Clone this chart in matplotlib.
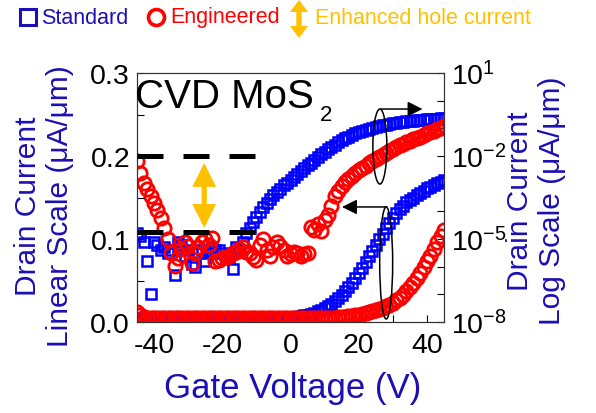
"""Transfer curves of standard vs engineered CVD MoS2 devices (linear + log)."""

import math

import matplotlib

matplotlib.use("Agg")

import matplotlib.pyplot as plt
from matplotlib.lines import Line2D
from matplotlib.patches import Ellipse, FancyArrowPatch, Polygon
from matplotlib.ticker import FixedLocator, FormatStrFormatter, FuncFormatter, NullFormatter

plt.rcParams["font.family"] = ["Liberation Sans", "DejaVu Sans"]
plt.rcParams["mathtext.fontset"] = "custom"
plt.rcParams["mathtext.rm"] = "Liberation Sans"
plt.rcParams["mathtext.default"] = "regular"
plt.rcParams["axes.unicode_minus"] = False

# gate sweep, V
gate_v = list(range(-45, 46))

# linear-scale drain current, uA/um
std_lin = [
    0.005, 0.005, 0.005, 0.005, 0.005, 0.005, 0.005, 0.005, 0.005, 0.005,
    0.005, 0.005, 0.005, 0.005, 0.005, 0.005, 0.005, 0.005, 0.005, 0.005,
    0.005, 0.005, 0.005, 0.005, 0.005, 0.005, 0.005, 0.005, 0.005, 0.005,
    0.005, 0.005, 0.005, 0.005, 0.005, 0.005, 0.005, 0.005, 0.005, 0.005,
    0.005, 0.005, 0.005, 0.005, 0.005, 0.005, 0.006, 0.006, 0.007, 0.008,
    0.009, 0.010, 0.011, 0.013, 0.015, 0.017, 0.019, 0.022, 0.025, 0.029,
    0.033, 0.037, 0.042, 0.047, 0.053, 0.059, 0.065, 0.072, 0.079, 0.086,
    0.093, 0.100, 0.106, 0.113, 0.119, 0.125, 0.131, 0.136, 0.140, 0.144,
    0.147, 0.150, 0.153, 0.156, 0.158, 0.161, 0.163, 0.165, 0.167, 0.169,
    0.171,
]
eng_lin = [
    0.012, 0.008, 0.006, 0.005, 0.005, 0.005, 0.005, 0.005, 0.005, 0.005,
    0.005, 0.005, 0.005, 0.005, 0.005, 0.005, 0.005, 0.005, 0.005, 0.005,
    0.005, 0.005, 0.005, 0.005, 0.005, 0.005, 0.005, 0.005, 0.005, 0.005,
    0.005, 0.005, 0.005, 0.005, 0.005, 0.005, 0.005, 0.005, 0.005, 0.005,
    0.005, 0.005, 0.005, 0.005, 0.005, 0.005, 0.005, 0.005, 0.005, 0.005,
    0.005, 0.005, 0.005, 0.005, 0.005, 0.005, 0.005, 0.005, 0.005, 0.0055,
    0.006, 0.0065, 0.007, 0.0075, 0.008, 0.0088, 0.0095, 0.0105, 0.0115, 0.0128,
    0.014, 0.0155, 0.017, 0.019, 0.021, 0.023, 0.026, 0.029, 0.033, 0.037,
    0.042, 0.047, 0.053, 0.059, 0.066, 0.073, 0.080, 0.088, 0.096, 0.104,
    0.111,
]

# log-scale drain current, uA/um
std_log = [
    1.6e-5, 1.3e-5, 7.9e-6, 1.6e-6, 1.0e-7, 7.9e-6, 6.3e-6, 4.0e-6, 5.0e-6, 3.2e-6,
    4.0e-6, 5.0e-7, 7.9e-6, 6.3e-6, 2.5e-6, 4.0e-6, 1.3e-6, 1.0e-6, 3.2e-6, 4.0e-6,
    1.6e-6, 3.2e-6, 5.0e-6, 4.0e-6, 4.0e-6, 3.2e-6, 2.5e-6, 2.0e-6, 7.9e-7, 5.0e-6,
    4.0e-6, 7.9e-6, 1.6e-5, 2.5e-5, 4.0e-5, 6.3e-5, 9.3e-5, 1.4e-4, 2.0e-4, 2.8e-4,
    3.8e-4, 5.0e-4, 6.6e-4, 8.7e-4, 1.1e-3, 1.4e-3, 1.8e-3, 2.3e-3, 2.9e-3, 3.6e-3,
    4.6e-3, 5.8e-3, 7.2e-3, 9.1e-3, 1.15e-2, 1.45e-2, 1.8e-2, 2.2e-2, 2.6e-2, 3.2e-2,
    3.7e-2, 4.4e-2, 5.0e-2, 5.8e-2, 6.6e-2, 7.4e-2, 8.1e-2, 8.9e-2, 9.8e-2, 0.105,
    0.112, 0.120, 0.129, 0.135, 0.145, 0.151, 0.158, 0.166, 0.174, 0.178,
    0.186, 0.191, 0.195, 0.200, 0.204, 0.209, 0.214, 0.219, 0.224, 0.229,
    0.234,
]
eng_log = [
    6.6e-3, 2.5e-3, 1.1e-3, 6.3e-4, 3.5e-4, 2.0e-4, 1.1e-4, 5.6e-5, 2.5e-5, 1.0e-5,
    3.2e-6, 1.1e-6, 2.0e-6, 4.5e-6, 7.9e-6, 5.6e-6, 1.4e-6, 3.2e-6, 5.0e-6, 7.9e-6,
    1.0e-5, 6.3e-6, 1.1e-5, 1.6e-6, 1.8e-6, 2.0e-6, 2.2e-6, 2.5e-6, 3.2e-6, 3.5e-6,
    4.5e-6, 5.0e-6, 3.5e-6, 3.2e-6, 2.2e-6, 1.8e-6, 6.3e-6, 1.0e-5, 4.0e-6, 2.5e-6,
    5.0e-6, 7.9e-6, 5.6e-6, 4.0e-6, 2.5e-6, 2.8e-6, 3.5e-6, 3.2e-6, 2.5e-6, 2.8e-6,
    3.2e-6, 2.8e-5, 2.2e-5, 3.5e-5, 2.0e-5, 5.0e-5, 7.1e-5, 1.6e-4, 3.5e-4, 5.6e-4,
    8.3e-4, 1.15e-3, 1.5e-3, 1.9e-3, 2.4e-3, 3.0e-3, 3.6e-3, 4.5e-3, 5.4e-3, 6.6e-3,
    7.9e-3, 9.5e-3, 1.1e-2, 1.3e-2, 1.5e-2, 1.8e-2, 2.1e-2, 2.4e-2, 2.8e-2, 3.2e-2,
    3.5e-2, 4.0e-2, 4.5e-2, 5.0e-2, 5.8e-2, 6.6e-2, 7.4e-2, 8.3e-2, 9.3e-2, 0.105,
    0.117,
]

# reference levels of the hole-current comparison (linear axis)
hole_levels = [0.2, 0.108]

BLUE = "#0000FF"
RED = "#FF0000"
LABEL_BLUE = "#1C0FB4"
ORANGE = "#FFC000"

W, H = 596, 414


def double_arrow_px(cx, top, bottom, half_w, head_len, half_shaft):
    """Outline of a vertical double-headed arrow, pixel coords from the top-left."""
    pts = [
        (cx, top), (cx + half_w, top + head_len), (cx + half_shaft, top + head_len),
        (cx + half_shaft, bottom - head_len), (cx + half_w, bottom - head_len),
        (cx, bottom), (cx - half_w, bottom - head_len), (cx - half_shaft, bottom - head_len),
        (cx - half_shaft, top + head_len), (cx - half_w, top + head_len),
    ]
    return [(x / W, 1 - y / H) for x, y in pts]


fig = plt.figure(figsize=(W / 100, H / 100), dpi=100)
ax = fig.add_axes([137 / W, 1 - 323 / H, 307 / W, 249 / H])
ax2 = ax.twinx()
ax.set_zorder(ax2.get_zorder() + 1)
ax.patch.set_visible(False)

sq = dict(marker="s", ms=7.6, mew=1.8, mfc="none", mec=BLUE, ls="none")
ci = dict(marker="o", ms=9.6, mew=2.0, mfc="none", mec=RED, ls="none")

ax2.plot(gate_v, std_log, **sq)
ax2.plot(gate_v, eng_log, **ci)
ax.plot(gate_v, std_lin, **sq)
ax.plot(gate_v, eng_lin, **ci)

ax.set_xlim(-45, 45)
ax.set_ylim(0, 0.3)
ax2.set_yscale("log")
ax2.set_ylim(1e-8, 1e1)

ax.xaxis.set_major_locator(FixedLocator([-40, -20, 0, 20, 40]))
ax.xaxis.set_minor_locator(FixedLocator([-30, -10, 10, 30]))
ax.yaxis.set_major_locator(FixedLocator([0.0, 0.1, 0.2, 0.3]))
ax.yaxis.set_minor_locator(FixedLocator([0.05, 0.15, 0.25]))
ax.yaxis.set_major_formatter(FormatStrFormatter("%.1f"))
ax2.yaxis.set_major_locator(FixedLocator([1e-8, 1e-5, 1e-2, 1e1]))
ax2.yaxis.set_minor_locator(FixedLocator([10.0 ** k for k in range(-8, 2)]))
ax2.yaxis.set_minor_formatter(NullFormatter())
ax2.yaxis.set_major_formatter(
    FuncFormatter(lambda v, p: r"$\mathregular{10^{%d}}$" % round(math.log10(v)))
)

for a in (ax, ax2):
    for s in a.spines.values():
        s.set_linewidth(0.8)
        s.set_color("0.2")
ax.tick_params(which="both", direction="in", length=5, width=0.8, labelsize=20.5,
               right=False, top=False)
ax.tick_params(axis="y", pad=5)
ax.tick_params(axis="x", pad=7)
ax2.tick_params(which="both", direction="in", length=5, width=0.8, labelsize=20.5, pad=5)

# dashed levels and enhanced-hole-current arrow
for lvl in hole_levels:
    ax.plot([-45, -4.5], [lvl, lvl], color="black", lw=3.6, dashes=(5.2, 4.0),
            solid_capstyle="butt", zorder=5)
ax.add_patch(FancyArrowPatch((-25.3, 0.1135), (-25.3, 0.1915),
                             arrowstyle="<|-|>,head_length=1.1,head_width=0.55",
                             mutation_scale=10, color=ORANGE, lw=3.8, zorder=4,
                             shrinkA=0, shrinkB=0, joinstyle="miter"))

# ellipses marking which curve belongs to which axis
ax.add_patch(Ellipse((26.2, 0.2114), 4.1, 0.0904, fill=False, ec="black", lw=1.1, zorder=6))
ax.add_patch(Ellipse((28.05, 0.0711), 3.8, 0.135, fill=False, ec="black", lw=1.1, zorder=6))
ax.add_patch(FancyArrowPatch((26.5, 0.2566), (38.7, 0.2566),
                             arrowstyle="-|>,head_length=0.9,head_width=0.45",
                             mutation_scale=10, color="black", lw=1.1, zorder=6,
                             shrinkA=0, shrinkB=0))
ax.add_patch(FancyArrowPatch((28.3, 0.1386), (15.1, 0.1386),
                             arrowstyle="-|>,head_length=0.9,head_width=0.45",
                             mutation_scale=10, color="black", lw=1.1, zorder=6,
                             shrinkA=0, shrinkB=0))

t1 = ax.text(-0.005, 0.863, "CVD MoS", transform=ax.transAxes, fontsize=29, va="baseline", ha="left")
ax.annotate("2", xy=(1, 0), xycoords=t1, xytext=(6, -5), textcoords="offset pixels",
            fontsize=16, va="baseline", ha="left")

# axis labels
fig.text(44 / W, 1 - 206 / H, "Drain Current\nLinear Scale (\u03bcA/\u03bcm)", rotation=90,
         ha="center", va="center", fontsize=21.5, color=LABEL_BLUE, linespacing=1.2)
fig.text(536 / W, 1 - 201 / H, "Drain Current\nLog Scale (\u03bcA/\u03bcm)", rotation=90,
         ha="center", va="center", fontsize=21.5, color=LABEL_BLUE, linespacing=1.15)
fig.text(292.5 / W, 1 - 389 / H, "Gate Voltage (V)", ha="center", va="center",
         fontsize=25, color=LABEL_BLUE)

# legend strip at top
ly = 1 - 18 / H
fig.add_artist(Line2D([27.5 / W], [ly], marker="s", ms=11.5, mew=2.2, mfc="none", mec=LABEL_BLUE,
                      transform=fig.transFigure))
fig.text(41 / W, ly, "Standard", ha="left", va="center", fontsize=15.5, color=LABEL_BLUE)
fig.add_artist(Line2D([156 / W], [ly], marker="o", ms=11.5, mew=2.6, mfc="none", mec=RED,
                      transform=fig.transFigure))
fig.text(170 / W, ly, "Engineered", ha="left", va="center", fontsize=15.5, color=RED)
fig.add_artist(Polygon(double_arrow_px(299, 1, 39, 9, 12, 2.7), closed=True,
                       fc=ORANGE, ec="none", transform=fig.transFigure))
fig.text(315 / W, ly, "Enhanced hole current", ha="left", va="center", fontsize=15.5, color=ORANGE)

fig.savefig("out.png", dpi=100)
